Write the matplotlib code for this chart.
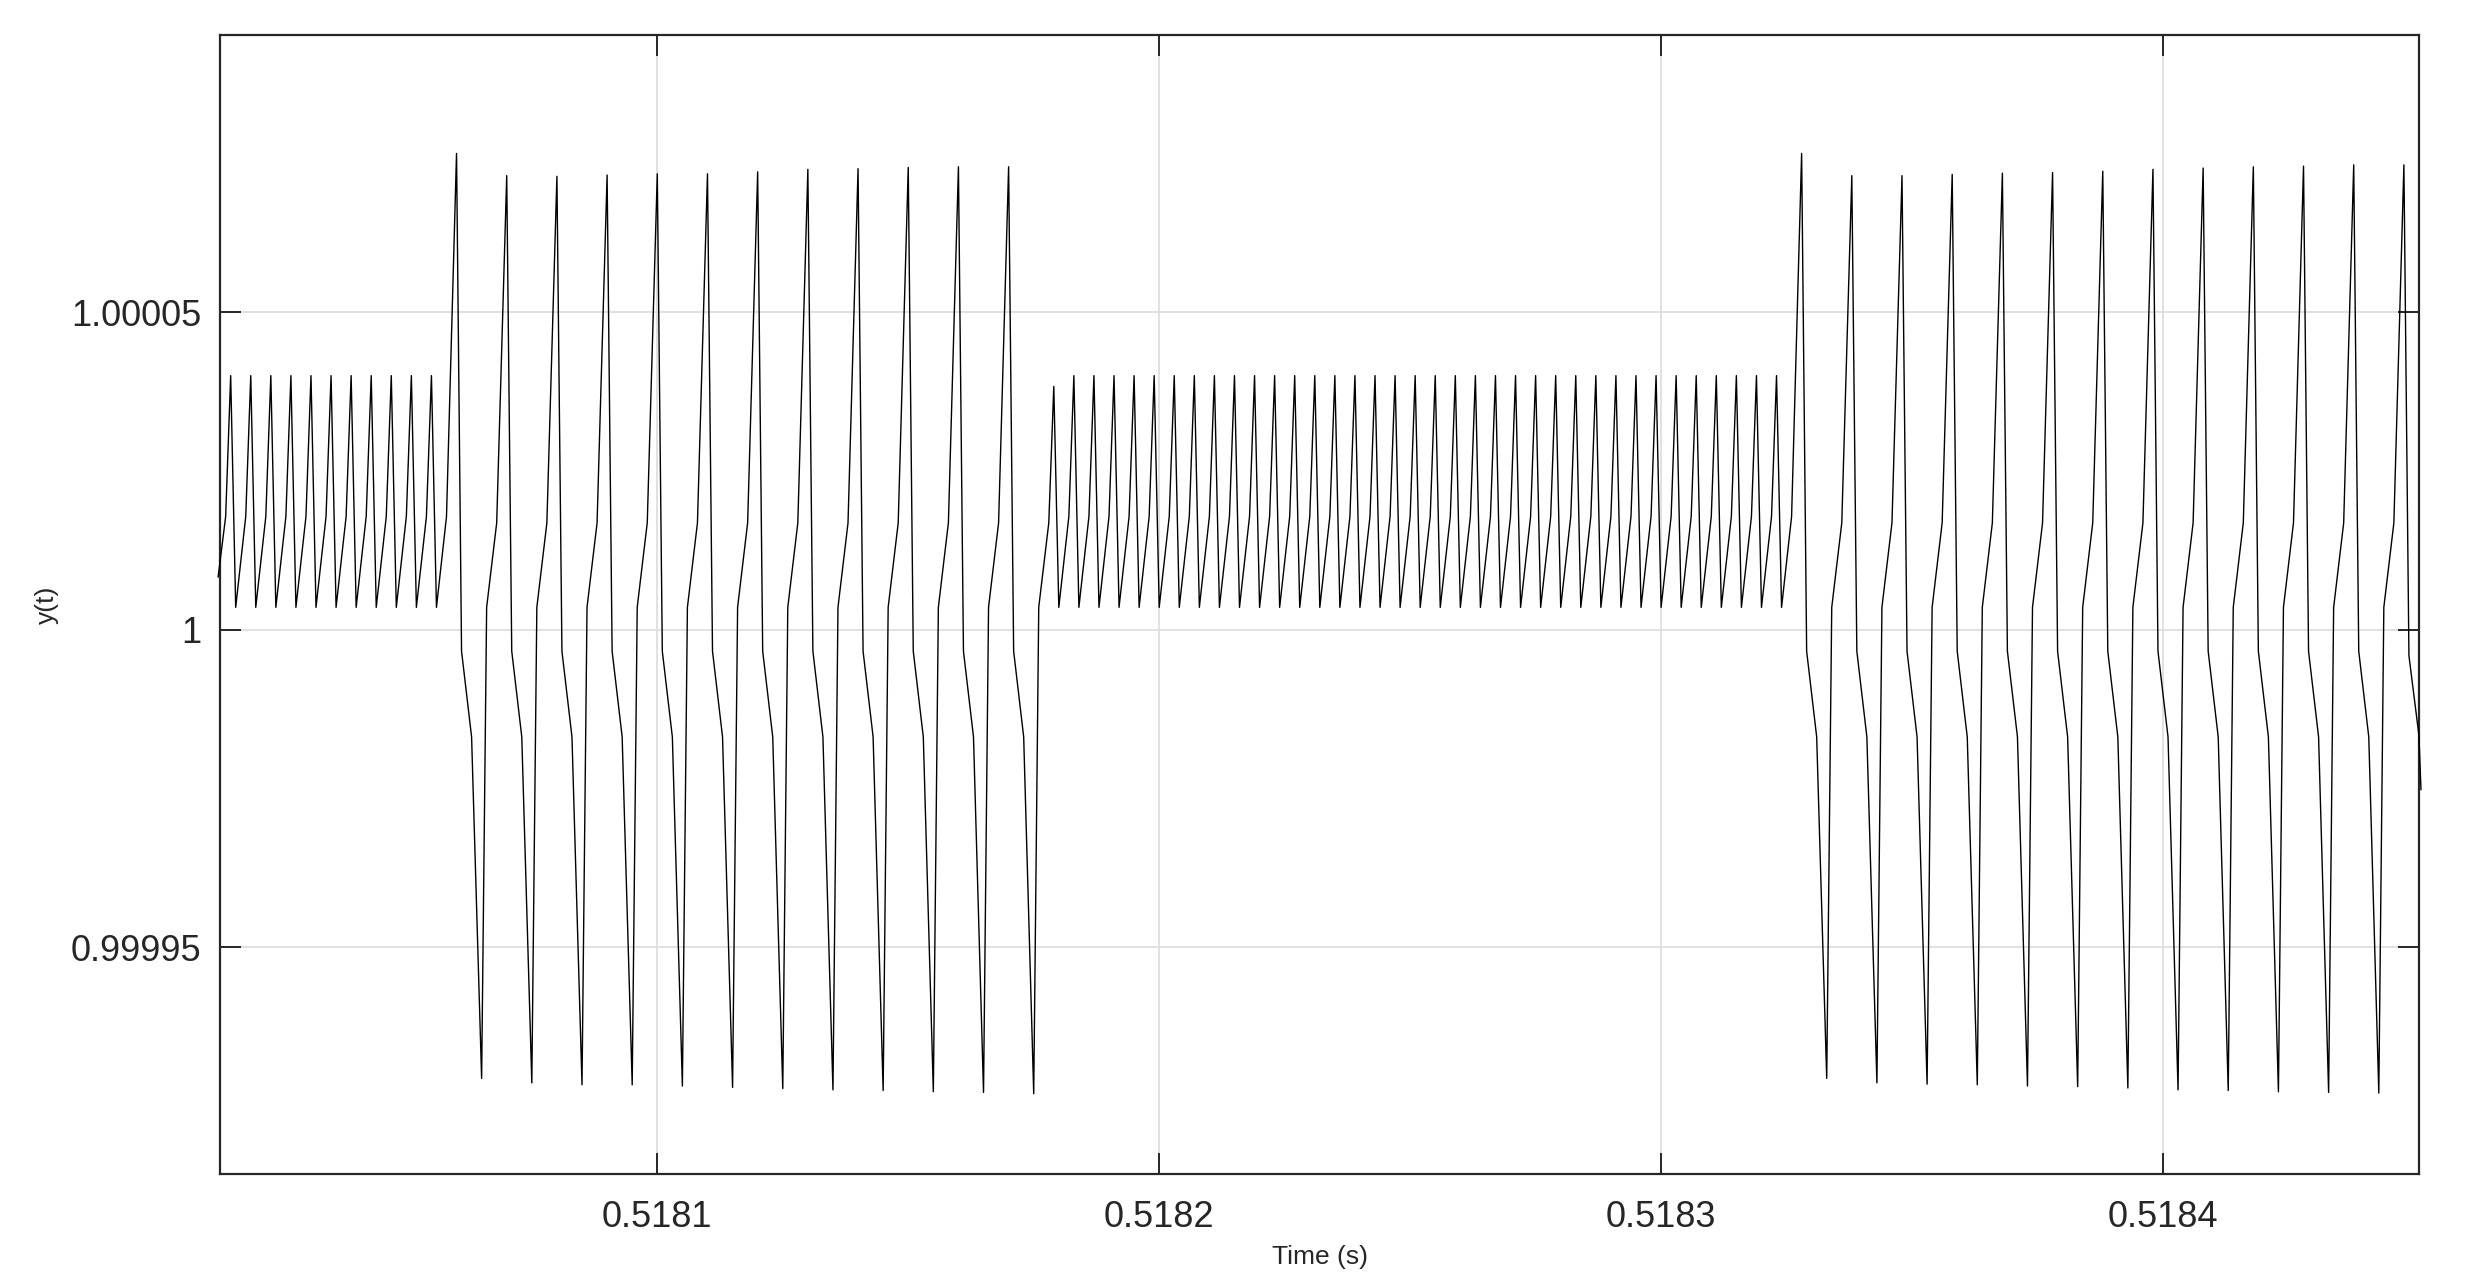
import numpy as np
import matplotlib
matplotlib.use("Agg")
import matplotlib.pyplot as plt

plt.rcParams['font.family'] = ['Liberation Sans', 'DejaVu Sans']

# times are microseconds after T0
T0 = 0.518

# start of the trace (it enters on a rising ramp)
lead_t_us = [12.5, 14.0]
lead_y = [1.0000083, 1.0000178]

# small sawtooth cycle: peak, bottom (+1 us), knee (+3 us)
tooth_offsets_us = [0, 1, 3]
tooth_levels = [1.0000400, 1.0000035, 1.0000178]
tooth_peaks_1_us = [15, 19, 23, 27, 31, 35, 39, 43, 47, 51, 55]

# big swing cycle: peak, drop, knee, trough, rise, knee
swing_offsets_us = [0, 1, 3, 5, 6, 8]
swing_a = 0.9999966
swing_b = 0.9999831
swing_d = 1.0000035
swing_e = 1.0000168

swing_peaks_1_us = [60, 70, 80, 90, 100, 110, 120, 130, 140, 150, 160, 170]
swing_peak_y_1 = [1.0000750, 1.0000715, 1.0000714, 1.0000716, 1.0000718, 1.0000718,
                  1.0000721, 1.0000725, 1.0000726, 1.0000728, 1.0000729, 1.0000729]
swing_trough_y_1 = [0.9999293, 0.9999286, 0.9999283, 0.9999283, 0.9999281, 0.9999279,
                    0.9999277, 0.9999275, 0.9999274, 0.9999272, 0.9999271, 0.9999269]

# back to the small sawtooth
mid_t_us = [179, 180, 182]
mid_y = [1.0000383, 1.0000035, 1.0000178]
tooth_peaks_2_us = [183, 187, 191, 195, 199, 203, 207, 211, 215, 219, 223, 227,
                    231, 235, 239, 243, 247, 251, 255, 259, 263, 267, 271, 275,
                    279, 283, 287, 291, 295, 299, 303, 307, 311, 315, 319, 323]

swing_peaks_2_us = [328, 338, 348, 358, 368, 378, 388, 398, 408, 418, 428, 438]
swing_peak_y_2 = [1.0000750, 1.0000715, 1.0000715, 1.0000717, 1.0000719, 1.0000720,
                  1.0000722, 1.0000725, 1.0000727, 1.0000729, 1.0000730, 1.0000732]
swing_trough_y_2 = [0.9999293, 0.9999286, 0.9999284, 0.9999283, 0.9999281, 0.9999280,
                    0.9999278, 0.9999275, 0.9999274, 0.9999272, 0.9999271, 0.9999270]

# last, cut-off cycle
tail_t_us = [448, 449, 451, 451.4]
tail_y = [1.0000732, 0.9999959, 0.9999833, 0.9999748]

x_ticks = [0.5181, 0.5182, 0.5183, 0.5184]
x_tick_labels = ['0.5181', '0.5182', '0.5183', '0.5184']
y_ticks = [0.99995, 1.0, 1.00005]
y_tick_labels = ['0.99995', '1', '1.00005']


t_us = list(lead_t_us)
y = list(lead_y)


def add_teeth(peaks):
    for p in peaks:
        for off, lev in zip(tooth_offsets_us, tooth_levels):
            t_us.append(p + off)
            y.append(lev)


def add_swings(peaks, peak_y, trough_y):
    for p, hi, lo in zip(peaks, peak_y, trough_y):
        levels = [hi, swing_a, swing_b, lo, swing_d, swing_e]
        for off, lev in zip(swing_offsets_us, levels):
            t_us.append(p + off)
            y.append(lev)


add_teeth(tooth_peaks_1_us)
add_swings(swing_peaks_1_us, swing_peak_y_1, swing_trough_y_1)
t_us += mid_t_us
y += mid_y
add_teeth(tooth_peaks_2_us)
add_swings(swing_peaks_2_us, swing_peak_y_2, swing_trough_y_2)
t_us += tail_t_us
y += tail_y

t = T0 + np.array(t_us) * 1e-6
y = np.array(y)

ink = '#262626'

fig = plt.figure(figsize=(24.71, 12.83), dpi=100)
ax = fig.add_axes([0.08923, 0.08496, 0.88965, 0.88799])

ax.plot(t, y, color='black', lw=1.0, clip_on=False, zorder=3)

ax.set_xlim(0.51801297, 0.51845097)
ax.set_ylim(0.99991425, 1.0000937)

ax.set_xticks(x_ticks, labels=x_tick_labels)
ax.set_yticks(y_ticks, labels=y_tick_labels)
ax.tick_params(direction='in', length=15, width=1.4, top=True, right=True,
               colors=ink, labelsize=26)
ax.tick_params(axis='x', pad=19)
ax.tick_params(axis='y', pad=14)

ax.grid(True, color='#dedede', lw=1.3)

for side in ['left', 'right', 'top', 'bottom']:
    ax.spines[side].set_color(ink)
    ax.spines[side].set_linewidth(1.6)

ax.set_xlabel('Time (s)', fontsize=19, color=ink)
ax.set_ylabel('y(t)', fontsize=19, color=ink)
ax.xaxis.label.set_va('center')
ax.yaxis.label.set_va('center')
ax.xaxis.set_label_coords(0.5, -0.0729)
ax.yaxis.set_label_coords(-0.0788, 0.5)

fig.savefig('out.png', dpi=100)
